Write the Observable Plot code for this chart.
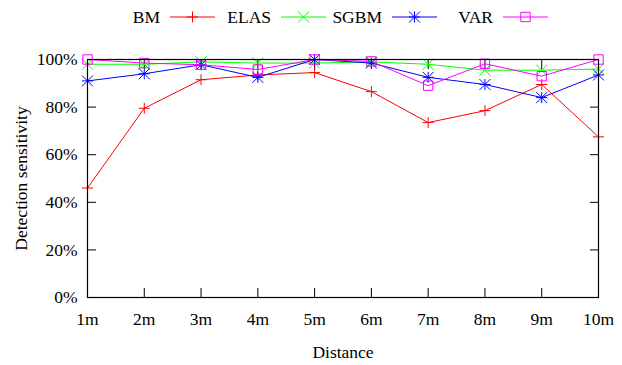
<!DOCTYPE html>
<html>
<head>
<meta charset="utf-8">
<script src="https://cdn.jsdelivr.net/npm/d3@7"></script>
<script src="https://cdn.jsdelivr.net/npm/@observablehq/plot@0.6"></script>
<style>
  html, body { margin: 0; padding: 0; background: #fff; }
  body { width: 622px; height: 365px; overflow: hidden; font-family: "Liberation Serif", "DejaVu Serif", serif; }
  #legend { position: relative; height: 40px; width: 622px; }
  .item { position: absolute; top: 6px; height: 22px; display: flex; align-items: center; }
  .item span { display: inline-block; width: 56px; text-align: right; font-size: 17.5px; color: #000; margin-right: 10px; }
  #chart svg text { font-family: "Liberation Serif", serif !important; font-size: 17.5px !important; }
</style>
</head>
<body>
<div id="legend"></div>
<div id="chart"></div>
<script>
// ---- data ----
const distances = [1, 2, 3, 4, 5, 6, 7, 8, 9, 10];
const seriesNames = ["BM", "ELAS", "SGBM", "VAR"];
const seriesColors = ["#ff0000", "#00ff00", "#0000ff", "#ff00ff"];
const bmValues   = [46, 79.5, 91.5, 93.5, 94.5, 86.5, 73.5, 78.5, 89.5, 67.5];
const elasValues = [98, 98, 99, 98.5, 98.5, 99, 98, 95.5, 95.5, 96];
const sgbmValues = [91, 94, 97.8, 92.5, 100, 98.5, 92.5, 89.5, 84, 93.5];
const varValues  = [100, 98.5, 97.8, 95.8, 100, 99.2, 89, 98.2, 93, 100];
const yTicks = [0, 20, 40, 60, 80, 100];

// ---- gnuplot-like symbols ----
const hw = s => Math.sqrt(s / Math.PI);
const symPlus = { draw(c, s) { const r = hw(s); c.moveTo(-r, 0); c.lineTo(r, 0); c.moveTo(0, -r); c.lineTo(0, r); } };
const symTimes = { draw(c, s) { const r = hw(s); c.moveTo(-r, -r); c.lineTo(r, r); c.moveTo(-r, r); c.lineTo(r, -r); } };
const symStar = { draw(c, s) { const r = hw(s); c.moveTo(-r, 0); c.lineTo(r, 0); c.moveTo(0, -r); c.lineTo(0, r); c.moveTo(-r, -r); c.lineTo(r, r); c.moveTo(-r, r); c.lineTo(r, -r); } };
const symSquare = { draw(c, s) { const r = hw(s) * 0.85; c.moveTo(-r, -r); c.lineTo(r, -r); c.lineTo(r, r); c.lineTo(-r, r); c.closePath(); } };
const seriesSymbols = [symPlus, symTimes, symStar, symSquare];
const seriesValues = [bmValues, elasValues, sgbmValues, varValues];

const rows = [];
seriesNames.forEach((name, i) => {
  distances.forEach((d, j) => rows.push({ series: name, distance: d, value: seriesValues[i][j] }));
});

// ---- legend ----
const legend = document.getElementById("legend");
seriesNames.forEach((name, i) => {
  const item = document.createElement("div");
  item.className = "item";
  item.style.left = (104 + i * 111) + "px";
  const label = document.createElement("span");
  label.textContent = name;
  item.appendChild(label);
  const svg = d3.create("svg").attr("width", 46).attr("height", 22);
  svg.append("line").attr("x1", 0).attr("x2", 45).attr("y1", 11).attr("y2", 11)
    .attr("stroke", seriesColors[i]).attr("stroke-width", 1);
  const p = d3.path();
  seriesSymbols[i].draw(p, Math.PI * 5.5 * 5.5);
  svg.append("path").attr("d", p.toString()).attr("transform", "translate(22.5,11)")
    .attr("fill", "none").attr("stroke", seriesColors[i]).attr("stroke-width", 1);
  item.appendChild(svg.node());
  legend.appendChild(item);
});

// ---- chart ----
const marks = [];
seriesNames.forEach((name, i) => {
  const data = rows.filter(r => r.series === name);
  marks.push(Plot.line(data, { x: "distance", y: "value", stroke: seriesColors[i], strokeWidth: 1 }));
  marks.push(Plot.dot(data, { x: "distance", y: "value", stroke: seriesColors[i], fill: "none", strokeWidth: 1, r: 5.5, symbol: seriesSymbols[i] }));
});

const chart = Plot.plot({
  width: 622,
  height: 325,
  marginTop: 19,
  marginBottom: 68,
  marginLeft: 87,
  marginRight: 24,
  style: { fontFamily: "Liberation Serif", fontSize: "17.5px", color: "#000", background: "#fff" },
  x: { domain: [1, 10] },
  y: { domain: [0, 100] },
  marks: [
    Plot.axisX({ anchor: "bottom", ticks: distances, tickFormat: d => d + "m", tickSize: 0, tickPadding: 15, label: null }),
    Plot.axisX({ anchor: "bottom", ticks: distances, tickFormat: () => "", tickSize: -9, label: null }),
    Plot.axisX({ anchor: "top", ticks: distances, tickFormat: () => "", tickSize: -9, label: null }),
    Plot.axisY({ anchor: "left", ticks: yTicks, tickFormat: d => d + "%", tickSize: 0, tickPadding: 10,
                 label: "Detection sensitivity", labelAnchor: "center", labelArrow: "none", labelOffset: 73 }),
    Plot.axisY({ anchor: "left", ticks: yTicks, tickFormat: () => "", tickSize: -9, label: null }),
    Plot.axisY({ anchor: "right", ticks: yTicks, tickFormat: () => "", tickSize: -9, label: null }),
    Plot.text(["Distance"], { frameAnchor: "bottom", dy: 60, lineAnchor: "bottom" }),
    ...marks,
    Plot.frame({ stroke: "#000", strokeWidth: 1.2 })
  ]
});
document.getElementById("chart").appendChild(chart);
</script>
</body>
</html>
